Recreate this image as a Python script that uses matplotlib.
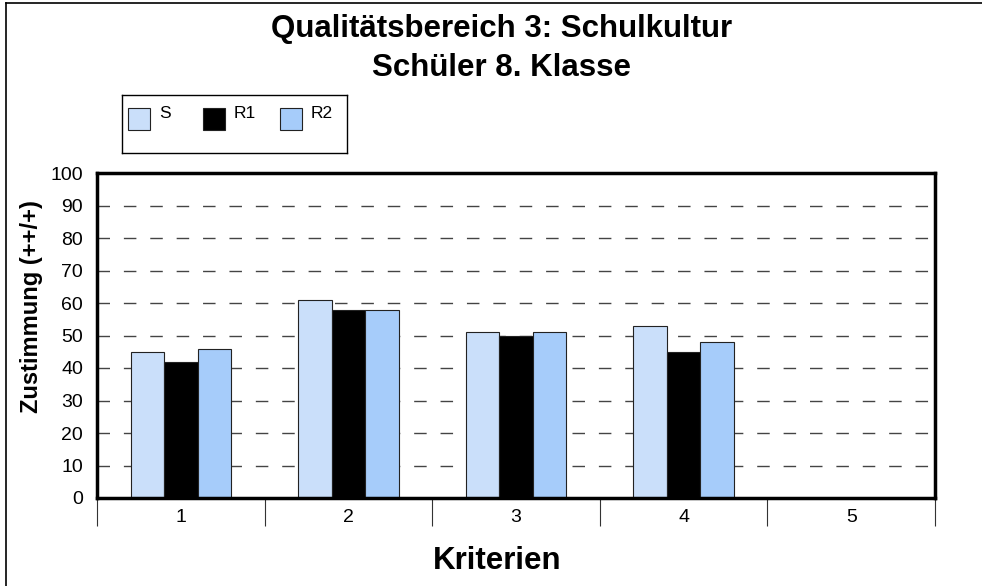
import matplotlib
matplotlib.use("Agg")
import matplotlib.pyplot as plt
from matplotlib.patches import Rectangle
from matplotlib.lines import Line2D
import numpy as np

plt.rcParams["font.family"] = ["Liberation Sans", "DejaVu Sans"]

# data
criteria = ["1", "2", "3", "4", "5"]
series_names = ["S", "R1", "R2"]
s_vals = [45, 61, 51, 53, 0]
r1_vals = [42, 58, 50, 45, 0]
r2_vals = [46, 58, 51, 48, 0]
yticks = list(range(0, 101, 10))

colors = ["#CADFFA", "#000000", "#A6CCFA"]

W, H = 982, 586
fig = plt.figure(figsize=(W / 100, H / 100), dpi=100)

def fx(px):
    return px / W

def fy(py):
    return 1 - py / H

# outer chart border (only left and top visible)
fig.add_artist(Line2D([fx(6), 1.0], [fy(3), fy(3)], color="black", lw=1.2, transform=fig.transFigure))
fig.add_artist(Line2D([fx(6), fx(6)], [fy(3), 0.0], color="black", lw=1.2, transform=fig.transFigure))

fig.text(fx(502), fy(29), "Qualitätsbereich 3: Schulkultur", ha="center", va="center",
         fontsize=22.5, fontweight="bold")
fig.text(fx(502), fy(68), "Schüler 8. Klasse", ha="center", va="center",
         fontsize=22.5, fontweight="bold")

ax = fig.add_axes([fx(97), fy(498), fx(935) - fx(97), fy(173) - fy(498)])

x = np.arange(1, len(criteria) + 1)
width = 0.2
for i, (vals, name) in enumerate(zip([s_vals, r1_vals, r2_vals], series_names)):
    ax.bar(x + (i - 1) * width, vals, width, color=colors[i], edgecolor="#222222",
           linewidth=0.8, label=name, zorder=3)

ax.set_xlim(0.5, len(criteria) + 0.5)
ax.set_ylim(0, 100)
ax.set_yticks(yticks)
ax.set_yticklabels([str(v) for v in yticks], fontsize=14)
ax.tick_params(axis="y", length=0, pad=10)

for v in yticks[1:-1]:
    ax.axhline(v, color="#444444", lw=1, linestyle=(0, (9, 10)), zorder=1)

ax.set_xticks(x)
ax.set_xticklabels(criteria, fontsize=14)
ax.set_xticks(np.arange(0.5, len(criteria) + 1, 1), minor=True)
ax.tick_params(axis="x", which="major", length=0, pad=8)
ax.tick_params(axis="x", which="minor", length=20, width=0.8, color="#333333", direction="out")

for sp in ax.spines.values():
    sp.set_linewidth(2.5)
    sp.set_color("black")
    sp.set_zorder(5)

fig.text(fx(32), fy(307), "Zustimmung (++/+)", rotation=90, ha="center", va="center",
         fontsize=17, fontweight="bold")
fig.text(fx(497), fy(561), "Kriterien", ha="center", va="center", fontsize=22.5, fontweight="bold")

# legend box
lax = fig.add_axes([fx(122), fy(153), fx(347) - fx(122), fy(95) - fy(153)])
lax.set_xlim(0, 225)
lax.set_ylim(58, 0)
lax.set_xticks([])
lax.set_yticks([])
for sp in lax.spines.values():
    sp.set_linewidth(1)
    sp.set_color("black")
sq_x = [6, 81, 158]
for i, name in enumerate(series_names):
    lax.add_patch(Rectangle((sq_x[i], 13), 22, 22, facecolor=colors[i], edgecolor="#222222", lw=0.8))
    lax.text(sq_x[i] + 31, 11, name, ha="left", va="top", fontsize=12.5)

fig.savefig("out.png", dpi=100, facecolor="white")
